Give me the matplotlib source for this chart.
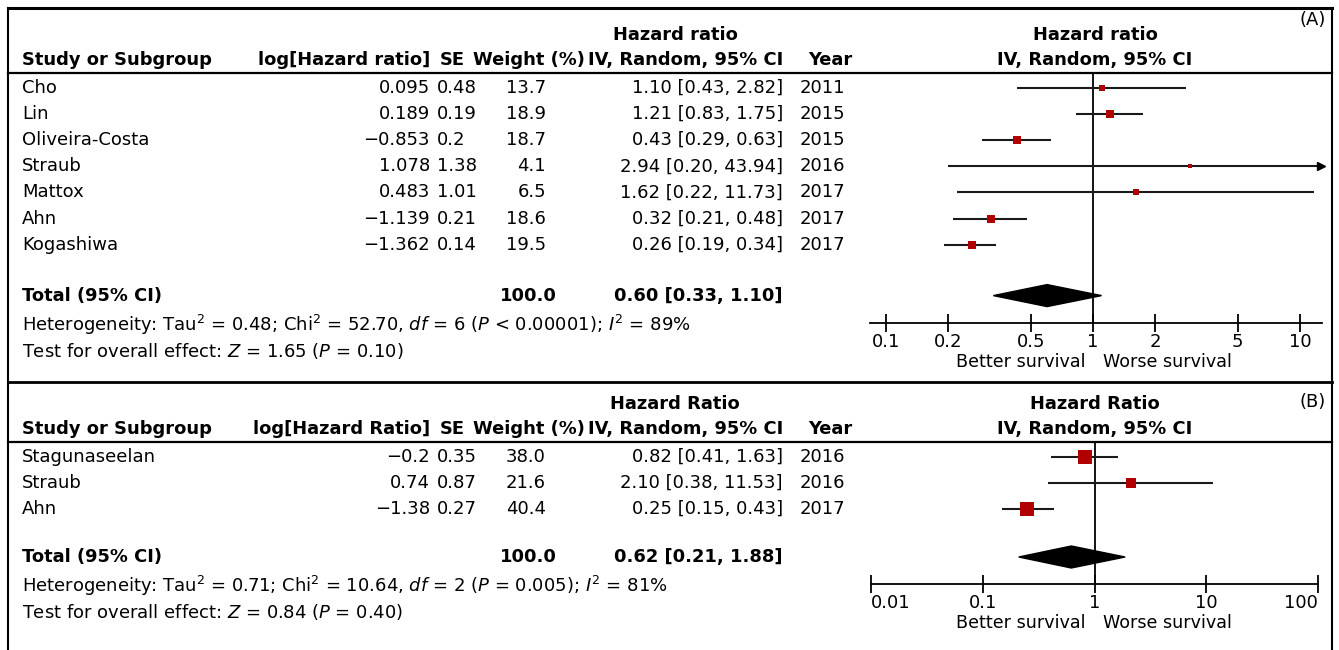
import matplotlib
matplotlib.use('Agg')
import matplotlib.pyplot as plt
from matplotlib.patches import Polygon
from matplotlib.ticker import NullLocator, FixedLocator, FixedFormatter

plt.rcParams['font.family'] = ['DejaVu Sans']
plt.rcParams['mathtext.fontset'] = 'dejavusans'

# ---------------- data: panel A ----------------
a_studies = ['Cho', 'Lin', 'Oliveira-Costa', 'Straub', 'Mattox', 'Ahn', 'Kogashiwa']
a_loghr = [0.095, 0.189, -0.853, 1.078, 0.483, -1.139, -1.362]
a_se = [0.48, 0.19, 0.2, 1.38, 1.01, 0.21, 0.14]
a_weight = [13.7, 18.9, 18.7, 4.1, 6.5, 18.6, 19.5]
a_hr = [1.10, 1.21, 0.43, 2.94, 1.62, 0.32, 0.26]
a_lo = [0.43, 0.83, 0.29, 0.20, 0.22, 0.21, 0.19]
a_hi = [2.82, 1.75, 0.63, 43.94, 11.73, 0.48, 0.34]
a_year = [2011, 2015, 2015, 2016, 2017, 2017, 2017]
a_total = [0.60, 0.33, 1.10]
a_total_weight = 100.0
a_het = r'Heterogeneity: Tau$^2$ = 0.48; Chi$^2$ = 52.70, $df$ = 6 ($P$ < 0.00001); $I^2$ = 89%'
a_test = r'Test for overall effect: $Z$ = 1.65 ($P$ = 0.10)'
a_ticks = [0.1, 0.2, 0.5, 1, 2, 5, 10]
a_tick_labels = ['0.1', '0.2', '0.5', '1', '2', '5', '10']

# ---------------- data: panel B ----------------
b_studies = ['Stagunaseelan', 'Straub', 'Ahn']
b_loghr = [-0.2, 0.74, -1.38]
b_se = [0.35, 0.87, 0.27]
b_weight = [38.0, 21.6, 40.4]
b_hr = [0.82, 2.10, 0.25]
b_lo = [0.41, 0.38, 0.15]
b_hi = [1.63, 11.53, 0.43]
b_year = [2016, 2016, 2017]
b_total = [0.62, 0.21, 1.88]
b_total_weight = 100.0
b_het = r'Heterogeneity: Tau$^2$ = 0.71; Chi$^2$ = 10.64, $df$ = 2 ($P$ = 0.005); $I^2$ = 81%'
b_test = r'Test for overall effect: $Z$ = 0.84 ($P$ = 0.40)'
b_ticks = [0.01, 0.1, 1, 10, 100]
b_tick_labels = ['0.01', '0.1', '1', '10', '100']

W, H = 1339, 650
fig = plt.figure(figsize=(W / 100, H / 100), dpi=100)
fig.patch.set_facecolor('white')
pg = fig.add_axes([0, 0, 1, 1])
pg.set_xlim(0, W)
pg.set_ylim(H, 0)
pg.axis('off')

FS = 13.0
FSB = 12.9
RED = '#b00000'
LW = 1.3
CI_COL = '#1a1a1a'


def fmt_num(v):
    return str(v).replace('-', '\u2212')


def panel(top, studies, loghr, se, weight, hr, lo, hi, year, total, total_w,
          het, test, ticks, tick_labels, title, loglabel, letter, letter_y,
          ax_x0, ax_x1, ax_xmin, ax_xmax, sq_c, sq_k, bottom, row_step, total_gap,
          end_labels_inside):
    # header
    y_h1 = top + 27
    y_h2 = top + 52
    y_line = top + 65
    bold = dict(fontsize=FSB, fontweight='bold', va='center')
    pg.text(675, y_h1, title, ha='center', **bold)
    pg.text(22, y_h2, 'Study or Subgroup', ha='left', **bold)
    pg.text(430, y_h2, loglabel, ha='right', **bold)
    pg.text(440, y_h2, 'SE', ha='left', **bold)
    pg.text(585, y_h2, 'Weight (%)', ha='right', **bold)
    pg.text(783, y_h2, 'IV, Random, 95% CI', ha='right', **bold)
    pg.text(852, y_h2, 'Year', ha='right', **bold)
    pg.text(1095, y_h1, title, ha='center', **bold)
    pg.text(1095, y_h2, 'IV, Random, 95% CI', ha='center', **bold)
    pg.text(1326, letter_y, letter, ha='right', va='center', fontsize=FS)
    pg.plot([8, 1332], [y_line, y_line], color='black', lw=1.6)

    n = len(studies)
    ys = [y_line + 15 + i * row_step for i in range(n)]
    norm = dict(fontsize=FS, va='center')
    for i in range(n):
        y = ys[i]
        pg.text(22, y, studies[i], ha='left', **norm)
        pg.text(430, y, fmt_num(loghr[i]), ha='right', **norm)
        pg.text(437, y, fmt_num(se[i]), ha='left', **norm)
        pg.text(546, y, '%.1f' % weight[i], ha='right', **norm)
        pg.text(783, y, '%.2f [%.2f, %.2f]' % (hr[i], lo[i], hi[i]), ha='right', **norm)
        pg.text(800, y, str(year[i]), ha='left', **norm)
    y_tot = ys[-1] + total_gap
    pg.text(22, y_tot, 'Total (95% CI)', ha='left', **bold)
    pg.text(557, y_tot, '%.1f' % total_w, ha='right', **bold)
    pg.text(783, y_tot, '%.2f [%.2f, %.2f]' % tuple(total), ha='right', **bold)
    y_het = y_tot + 29
    pg.text(22, y_het, het, ha='left', **norm)
    pg.text(22, y_het + 26, test, ha='left', **norm)

    # forest axes
    axis_y = y_het - 2
    fax = fig.add_axes([ax_x0 / W, 1 - bottom / H, (ax_x1 - ax_x0) / W, (bottom - y_line) / H])
    fax.set_xscale('log')
    fax.set_xlim(ax_xmin, ax_xmax)
    fax.set_ylim(bottom, y_line)
    fax.patch.set_alpha(0)
    for s in ['top', 'left', 'right']:
        fax.spines[s].set_visible(False)
    fax.spines['bottom'].set_position(('data', axis_y))
    fax.spines['bottom'].set_linewidth(LW)
    fax.xaxis.set_major_locator(FixedLocator(ticks))
    fax.xaxis.set_major_formatter(FixedFormatter(tick_labels))
    fax.xaxis.set_minor_locator(NullLocator())
    fax.tick_params(axis='x', direction='inout', length=13, width=LW, pad=1.0,
                    labelsize=FS)
    fax.set_yticks([])
    if end_labels_inside:
        lbls = fax.get_xticklabels()
        lbls[0].set_horizontalalignment('left')
        lbls[-1].set_horizontalalignment('right')

    fax.vlines(1, y_line + 1, axis_y, color='black', lw=LW)
    for i in range(n):
        y = ys[i]
        h = min(hi[i], ax_xmax)
        fax.hlines(y, lo[i], h, color=CI_COL, lw=1.5)
        if hi[i] > ax_xmax:
            fax.plot(ax_xmax * 0.985, y, marker='>', ms=6, color='black', clip_on=False)
        side_px = sq_c + sq_k * weight[i] ** 0.5
        fax.plot(hr[i], y, marker='s', ms=side_px * 0.72, color=RED, mec=RED, mew=0,
                 linestyle='none', zorder=3)
    est, tlo, thi = total
    fax.add_patch(Polygon([(tlo, y_tot), (est, y_tot - 11), (thi, y_tot), (est, y_tot + 11)],
                          closed=True, color='black', zorder=3))
    pg.text(1085, axis_y + 39, 'Better survival', ha='right', va='center', fontsize=FS * 0.97)
    pg.text(1103, axis_y + 39, 'Worse survival', ha='left', va='center', fontsize=FS * 0.97)


# panel A: x ticks 0.1 at 886 px, 10 at 1300 px
ppd_a = (1300 - 886) / 2
panel(8, a_studies, a_loghr, a_se, a_weight, a_hr, a_lo, a_hi, a_year, a_total,
      a_total_weight, a_het, a_test, a_ticks, a_tick_labels, 'Hazard ratio',
      'log[Hazard ratio]', '(A)', 20, 870, 1322,
      10 ** (-1 - (886 - 870) / ppd_a), 10 ** (1 + (1322 - 1300) / ppd_a),
      2.0, 1.35, 380, 26.1, 51, False)

# panel B
panel(377, b_studies, b_loghr, b_se, b_weight, b_hr, b_lo, b_hi, b_year, b_total,
      b_total_weight, b_het, b_test, b_ticks, b_tick_labels, 'Hazard Ratio',
      'log[Hazard Ratio]', '(B)', 402, 871, 1318, 0.01, 100,
      0.0, 2.15, 646, 26.0, 48, True)

# borders
pg.plot([8, 1332], [8, 8], color='black', lw=2.2)
pg.plot([8, 1332], [382, 382], color='black', lw=2.0)
pg.plot([8, 8], [8, 650], color='black', lw=1.5)
pg.plot([1332, 1332], [8, 650], color='black', lw=1.5)

fig.savefig('out.png', dpi=100)
